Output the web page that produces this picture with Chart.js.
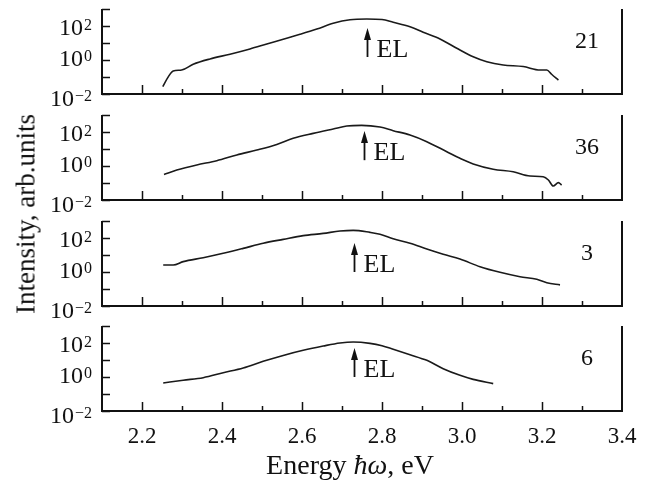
<!DOCTYPE html>
<html>
<head>
<meta charset="utf-8">
<script src="https://cdn.jsdelivr.net/npm/chart.js@4/dist/chart.umd.min.js"></script>
<style>
  html, body { margin: 0; padding: 0; background: #fff; }
  #wrap { position: relative; width: 645px; height: 480px; overflow: hidden; }
  #wrap canvas { position: absolute; left: 0; }
  .title { position: absolute; font-family: "Liberation Serif", "Times New Roman", serif; font-size: 27px; color: #111; white-space: nowrap; }
  #xTitle { left: 350px; top: 465px; font-size: 28px; transform: translate(-50%, -50%); }
  #yTitle { left: 26px; top: 214px; transform: translate(-50%, -50%) rotate(-90deg); }
</style>
</head>
<body>
<div id="wrap">
  <canvas id="p0" width="645" height="106" style="top:3px"></canvas>
  <canvas id="p1" width="645" height="106" style="top:109px"></canvas>
  <canvas id="p2" width="645" height="106" style="top:215px"></canvas>
  <canvas id="p3" width="645" height="160" style="top:320px"></canvas>
  <div class="title" id="xTitle">Energy <i>ħω</i>, eV</div>
  <div class="title" id="yTitle">Intensity, arb.units</div>
</div>
<script>
// spectra, photon energy in eV, intensity in arb. units
const energy21 = [2.252, 2.266, 2.278, 2.299, 2.328, 2.37, 2.42, 2.47, 2.512, 2.553, 2.595, 2.637, 2.678, 2.72, 2.762, 2.80, 2.828, 2.87, 2.903, 2.945, 2.987, 3.028, 3.062, 3.103, 3.153, 3.195, 3.212, 3.224, 3.241];
const intensity21 = [0.027, 0.105, 0.224, 0.257, 0.562, 1.15, 2.19, 4.47, 8.71, 16.6, 32.4, 66.1, 145, 234, 257, 240, 166, 91.2, 42.7, 17.4, 4.9, 1.55, 0.79, 0.51, 0.41, 0.257, 0.26, 0.145, 0.066];

const energy36 = [2.255, 2.287, 2.337, 2.387, 2.437, 2.487, 2.537, 2.578, 2.628, 2.678, 2.712, 2.749, 2.795, 2.828, 2.87, 2.912, 2.962, 2.995, 3.028, 3.078, 3.128, 3.17, 3.203, 3.216, 3.228, 3.241, 3.249];
const intensity36 = [0.32, 0.575, 1.15, 2.04, 4.47, 8.71, 18.6, 42.7, 83.2, 151, 224, 245, 195, 120, 66.1, 26.9, 6.92, 2.82, 1.32, 0.646, 0.457, 0.257, 0.234, 0.151, 0.066, 0.105, 0.076];

const energy3 = [2.253, 2.278, 2.303, 2.353, 2.403, 2.453, 2.503, 2.553, 2.603, 2.653, 2.695, 2.728, 2.77, 2.795, 2.828, 2.87, 2.912, 2.953, 2.995, 3.045, 3.095, 3.145, 3.187, 3.212, 3.245];
const intensity3 = [2.57, 2.57, 4.07, 6.92, 12.6, 24.5, 49, 83.2, 138, 186, 257, 282, 214, 166, 91, 49, 22.4, 11, 5.75, 2.04, 0.955, 0.525, 0.372, 0.234, 0.174];

const energy6 = [2.253, 2.303, 2.353, 2.403, 2.453, 2.503, 2.553, 2.603, 2.653, 2.695, 2.728, 2.77, 2.80, 2.828, 2.87, 2.912, 2.953, 2.995, 3.028, 3.078];
const intensity6 = [0.447, 0.646, 0.912, 1.78, 3.39, 8.32, 18.6, 37.2, 66.1, 100, 115, 95.5, 69.2, 42.7, 20.4, 9.55, 3.09, 1.26, 0.724, 0.407];

const sampleLabels = ['21', '36', '3', '6'];
const energies = [energy21, energy36, energy3, energy6];
const intensities = [intensity21, intensity36, intensity3, intensity6];

// EL peak markers: arrow energy, arrow foot and tip intensity
const elEnergy = [2.762, 2.754, 2.73, 2.73];
const elFrom = [1.5, 2.2, 1.0, 1.0];
const elTo = [76, 115, 51, 51];

// axes
const xMin = 2.1, xMax = 3.4;
const yMin = 0.01, yMax = 1000;
const xTickValues = [2.2, 2.3, 2.4, 2.5, 2.6, 2.7, 2.8, 2.9, 3.0, 3.1, 3.2, 3.3];
const xLabelValues = [2.2, 2.4, 2.6, 2.8, 3.0, 3.2, 3.4];
const yTickValues = [0.01, 0.1, 1, 10, 100, 1000];
const yLabelExponents = [2, 0, -2];

const SERIF = '"Liberation Serif", "Times New Roman", serif';
const INK = '#111';

// axis frame, inward ticks, 10^n labels, EL arrow and sample number
const panelDecor = {
  id: 'panelDecor',
  afterDraw(chart, args, opts) {
    const { ctx, chartArea: a, scales: { x, y } } = chart;
    const i = opts.index;
    ctx.save();
    ctx.strokeStyle = INK;
    ctx.fillStyle = INK;

    ctx.lineWidth = 2;
    ctx.beginPath();
    ctx.moveTo(a.left, a.top);
    ctx.lineTo(a.left, a.bottom);
    ctx.lineTo(a.right, a.bottom);
    ctx.lineTo(a.right, a.top);
    ctx.stroke();

    ctx.lineWidth = 1.5;
    ctx.beginPath();
    xTickValues.forEach(v => {
      const px = Math.round(x.getPixelForValue(v)) + 0.5;
      const len = Math.round(v * 10) % 2 === 0 ? 9 : 5;
      ctx.moveTo(px, a.bottom);
      ctx.lineTo(px, a.bottom - len);
    });
    yTickValues.forEach(v => {
      const py = Math.round(y.getPixelForValue(v)) + 0.5;
      ctx.moveTo(a.left, py);
      ctx.lineTo(a.left + 8, py);
    });
    ctx.stroke();

    // y labels as 10 with a raised exponent
    const shift = { '2': 3, '0': 0, '-2': 6 };
    yLabelExponents.forEach(n => {
      const py = y.getPixelForValue(Math.pow(10, n)) + shift[n];
      const expText = n < 0 ? '\u2212' + Math.abs(n) : String(n);
      ctx.font = '16px ' + SERIF;
      ctx.textAlign = 'right';
      ctx.textBaseline = 'alphabetic';
      const right = a.left - 10;
      ctx.fillText(expText, right, py + 0.5);
      const ew = ctx.measureText(expText).width;
      ctx.font = '24px ' + SERIF;
      ctx.textBaseline = 'middle';
      ctx.fillText('10', right - ew - 1, py);
    });

    // EL arrow
    const ax = Math.round(x.getPixelForValue(elEnergy[i])) + 0.5;
    const yFoot = y.getPixelForValue(elFrom[i]);
    const yTip = y.getPixelForValue(elTo[i]);
    ctx.lineWidth = 1.8;
    ctx.beginPath();
    ctx.moveTo(ax, yFoot);
    ctx.lineTo(ax, yTip + 8);
    ctx.stroke();
    ctx.beginPath();
    ctx.moveTo(ax, yTip);
    ctx.lineTo(ax - 3.5, yTip + 12);
    ctx.lineTo(ax + 3.5, yTip + 12);
    ctx.closePath();
    ctx.fill();
    ctx.font = '26px ' + SERIF;
    ctx.textAlign = 'left';
    ctx.textBaseline = 'alphabetic';
    ctx.fillText('EL', ax + 9, yFoot);

    // sample number
    ctx.font = '24px ' + SERIF;
    ctx.textAlign = 'center';
    ctx.textBaseline = 'middle';
    ctx.fillText(sampleLabels[i], a.right - 35, a.top + 33);

    // energy labels under the lowest panel
    if (opts.xLabels) {
      ctx.font = '23px ' + SERIF;
      xLabelValues.forEach(v => {
        ctx.fillText(v.toFixed(1), x.getPixelForValue(v), a.bottom + 26);
      });
    }
    ctx.restore();
  }
};

function makePanel(i) {
  const canvas = document.getElementById('p' + i);
  const last = i === 3;
  new Chart(canvas, {
    type: 'line',
    data: {
      datasets: [{
        label: sampleLabels[i],
        data: energies[i].map((e, k) => ({ x: e, y: intensities[i][k] })),
        borderColor: '#1a1a1a',
        borderWidth: 1.6,
        pointRadius: 0,
        cubicInterpolationMode: 'monotone',
        fill: false,
      }],
    },
    options: {
      responsive: false,
      animation: false,
      devicePixelRatio: 1,
      layout: { padding: { left: 102, right: 23, top: 6, bottom: canvas.height - 91 } },
      scales: {
        x: { type: 'linear', min: xMin, max: xMax, display: false },
        y: { type: 'logarithmic', min: yMin, max: yMax, display: false },
      },
      plugins: {
        legend: { display: false },
        tooltip: { enabled: false },
        panelDecor: { index: i, xLabels: last },
      },
    },
    plugins: [panelDecor],
  });
}

[0, 1, 2, 3].forEach(makePanel);
</script>
</body>
</html>
